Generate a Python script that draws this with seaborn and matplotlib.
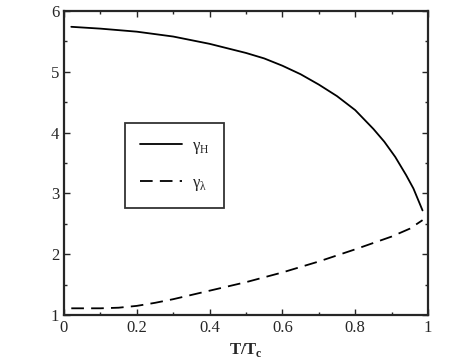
import numpy as np
import pandas as pd
import matplotlib
matplotlib.use("Agg")
import matplotlib.pyplot as plt
import seaborn as sns
from matplotlib.ticker import MultipleLocator

t_H = [0.02, 0.1, 0.2, 0.3, 0.4, 0.5, 0.55, 0.6, 0.65, 0.7, 0.75, 0.8, 0.85, 0.88, 0.91, 0.94, 0.96, 0.985]
gamma_H = [5.74, 5.71, 5.66, 5.58, 5.46, 5.31, 5.22, 5.10, 4.96, 4.79, 4.60, 4.37, 4.06, 3.85, 3.60, 3.30, 3.08, 2.72]
t_L = [0.02, 0.1, 0.15, 0.2, 0.25, 0.3, 0.4, 0.5, 0.6, 0.7, 0.8, 0.9, 0.95, 0.985]
gamma_L = [1.11, 1.11, 1.12, 1.15, 1.20, 1.26, 1.40, 1.54, 1.70, 1.88, 2.08, 2.29, 2.42, 2.56]

sns.set_style("ticks")
plt.rcParams['font.family'] = ['Liberation Serif', 'DejaVu Serif']
plt.rcParams['mathtext.fontset'] = 'custom'
plt.rcParams['mathtext.rm'] = 'Liberation Serif'
plt.rcParams['mathtext.bf'] = 'Liberation Serif:bold'

dfH = pd.DataFrame({"t": t_H, "g": gamma_H})
dfL = pd.DataFrame({"t": t_L, "g": gamma_L})

fig = plt.figure(figsize=(4.71, 3.64), dpi=100)
ax = fig.add_axes([64/471, 1-315/364, (428-64)/471, (315-11)/364])
sns.lineplot(data=dfH, x="t", y="g", ax=ax, color="black", lw=1.3, label=r"γ$_\mathrm{H}$")
sns.lineplot(data=dfL, x="t", y="g", ax=ax, color="black", lw=1.3, label=r"γ$_\mathrm{λ}$")
ax.lines[1].set_linestyle((0, (7, 4)))
ax.set_xlim(0, 1)
ax.set_ylim(1, 6)
ax.set_xticks([0, 0.2, 0.4, 0.6, 0.8, 1])
ax.set_xticklabels(["0", "0.2", "0.4", "0.6", "0.8", "1"])
ax.xaxis.set_minor_locator(MultipleLocator(0.1))
ax.yaxis.set_major_locator(MultipleLocator(1))
ax.yaxis.set_minor_locator(MultipleLocator(0.5))
ax.tick_params(which="both", direction="in", top=True, right=True, labelsize=12, width=1)
ax.tick_params(which="major", length=4)
ax.tick_params(which="minor", length=2)
for s in ax.spines.values():
    s.set_linewidth(1.6)
ax.set_xlabel(r"T/T$_\mathbf{c}$", fontsize=12, fontweight="bold", labelpad=4)
ax.set_ylabel("")
leg = ax.legend(loc="upper left", bbox_to_anchor=((125-64)/364, 1-(123-11)/304),
                frameon=True, fancybox=False, edgecolor="black", handlelength=2.5,
                handletextpad=0.6, borderpad=0.9, labelspacing=1.15, fontsize=12,
                borderaxespad=0)
leg.get_frame().set_linewidth(1.3)
fig.savefig("out.png", dpi=100)
